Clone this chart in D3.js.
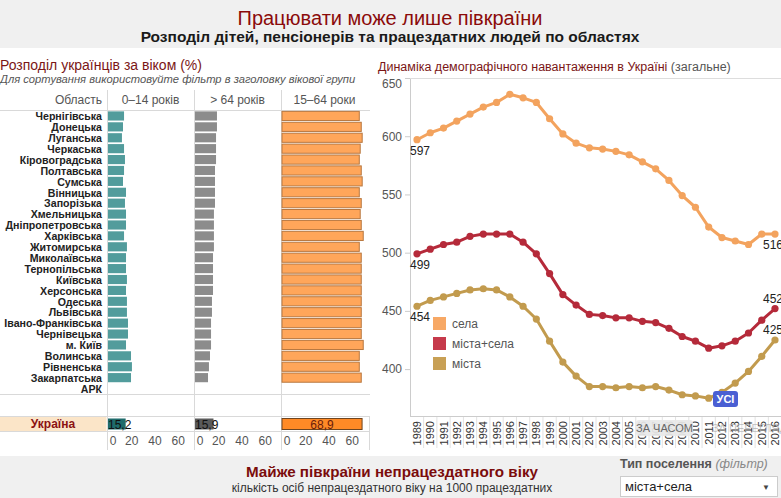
<!DOCTYPE html>
<html>
<head>
<meta charset="utf-8">
<script src="https://cdn.jsdelivr.net/npm/d3@7"></script>
<style>
  body { margin: 0; background: #fff; }
  svg text { font-family: "Liberation Sans", Arial, sans-serif; }
  svg .narrow { font-family: "Liberation Sans Narrow", "Arial Narrow", "Liberation Sans", sans-serif; }
</style>
</head>
<body>
<svg id="chart"></svg>
<script>
// ---- data ----
const regions = ["Чернігівська", "Донецька", "Луганська", "Черкаська", "Кіровоградська",
  "Полтавська", "Сумська", "Вінницька", "Запорізька", "Хмельницька", "Дніпропетровська",
  "Харківська", "Житомирська", "Миколаївська", "Тернопільська", "Київська", "Херсонська",
  "Одеська", "Львівська", "Івано-Франківська", "Чернівецька", "м. Київ", "Волинська",
  "Рівненська", "Закарпатська", "АРК"];
const ageGroups = ["0–14 років", "> 64 років", "15–64 роки"];
const young = [13.8, 12.9, 12.0, 13.8, 14.6, 13.8, 12.9, 15.5, 14.6, 15.5, 15.5, 13.8, 16.3,
  15.5, 15.5, 16.3, 15.5, 16.3, 16.3, 17.2, 17.2, 15.5, 19.8, 20.6, 19.8, null];
const old = [18.9, 18.9, 18.1, 18.1, 18.1, 17.2, 17.2, 17.2, 17.2, 16.3, 16.3, 16.3, 16.3,
  15.5, 15.5, 15.5, 15.5, 14.6, 14.6, 13.8, 13.8, 13.8, 12.9, 12.0, 11.2, null];
const working = [66.5, 68.2, 69.0, 67.3, 66.5, 68.2, 69.0, 66.5, 68.2, 67.3, 68.2, 69.9, 66.5,
  68.2, 68.2, 68.2, 68.2, 68.2, 68.2, 68.2, 68.2, 69.9, 66.5, 66.5, 68.2, null];
const ukraine = [15.2, 15.9, 68.9];
const pctTicks = [0, 20, 40, 60];

const years = ["1989", "1990", "1991", "1992", "1993", "1994", "1995", "1996", "1997", "1998",
  "1999", "2000", "2001", "2002", "2003", "2004", "2005", "2006", "2007", "2008", "2009",
  "2010", "2011", "2012", "2013", "2014", "2015", "2016"];
const rural = [597, 603, 607, 613, 619, 625, 629, 636, 633, 629, 615, 602, 594, 590, 589, 587,
  584, 578, 572, 562, 549, 539, 522, 513, 510, 507, 516, 516];
const total = [499, 503, 507, 509, 514, 516, 516, 516, 509, 499, 482, 464, 455, 447, 446, 444,
  444, 441, 440, 435, 428, 424, 418, 420, 424, 431, 442, 452];
const urban = [454, 459, 462, 465, 468, 469, 468, 462, 454, 443, 424, 406, 394, 385, 385, 384,
  385, 384, 385, 382, 378, 377, 375, 380, 388, 398, 411, 425];
const seriesNames = ["села", "міста+села", "міста"];
const loadTicks = [400, 450, 500, 550, 600, 650];

// ---- svg ----
const W = 781, H = 498;
const svg = d3.select("#chart").attr("width", W).attr("height", H);
const fmt = v => d3.format(".1f")(v).replace(".", ",");

// header band
svg.append("rect").attr("x", 0).attr("y", 0).attr("width", W).attr("height", 48).attr("fill", "#f0f0f0");
svg.append("text").attr("class", "narrow").attr("x", 390).attr("y", 25).attr("text-anchor", "middle")
  .attr("font-size", 20).attr("fill", "#8b0a0a").text("Працювати може лише півкраїни");
svg.append("text").attr("class", "narrow").attr("x", 390).attr("y", 42).attr("text-anchor", "middle")
  .attr("font-size", 15.5).attr("font-weight", "bold").attr("fill", "#1a1a1a")
  .text("Розподіл дітей, пенсіонерів та працездатних людей по областях");

// ---- left panel: age distribution ----
svg.append("text").attr("x", 0).attr("y", 70).attr("font-size", 14).attr("fill", "#7b1616")
  .text("Розподіл українців за віком (%)");
svg.append("text").attr("x", 0).attr("y", 83).attr("font-size", 11.2).attr("font-style", "italic")
  .attr("fill", "#555").text("Для сортування використовуйте фільтр в заголовку вікової групи");

const col = d3.scaleBand().domain(ageGroups).range([107, 368]);
const y = d3.scaleBand().domain(regions).range([110.5, 394]).paddingInner(0.16).paddingOuter(0.08);
const pct = ageGroups.map(g => d3.scaleLinear().domain([0, 74]).range([col(g) + 1, col(g) + 1 + 86]));

const colValues = [young, old, working];
const fills = ["#529c9c", "#8c8c8c", "#ffa65a"];
const strokes = [null, null, "#b8773f"];
const ukFills = ["#1f6b6b", "#5a5a5a", "#ff8a26"];
const ukStrokes = [null, null, "#6e4520"];

// grid lines
const grid = svg.append("g").attr("stroke", "#d9d9d9").attr("stroke-width", 1);
grid.selectAll("line.v").data(ageGroups).join("line")
  .attr("x1", g => col(g) + 0.5).attr("x2", g => col(g) + 0.5).attr("y1", 90).attr("y2", 450);
grid.append("line").attr("x1", 369.5).attr("x2", 369.5).attr("y1", 417).attr("y2", 450);
grid.append("line").attr("x1", 0).attr("x2", 370).attr("y1", 110.5).attr("y2", 110.5);
grid.append("line").attr("x1", 0).attr("x2", 370).attr("y1", 394.5).attr("y2", 394.5);
grid.append("line").attr("x1", 0).attr("x2", 370).attr("y1", 416.5).attr("y2", 416.5);
grid.append("line").attr("x1", 0).attr("x2", 370).attr("y1", 431.5).attr("y2", 431.5);

// headers
svg.append("text").attr("x", 102).attr("y", 104).attr("text-anchor", "end").attr("font-size", 12)
  .attr("fill", "#555").text("Область");
svg.selectAll("text.hdr").data(ageGroups).join("text").attr("class", "hdr")
  .attr("x", g => col(g) + col.bandwidth() / 2).attr("y", 104).attr("text-anchor", "middle")
  .attr("font-size", 12).attr("fill", "#555").text(g => g);

// region labels (condensed bold, as in the original)
svg.selectAll("text.reg").data(regions).join("text").attr("class", "reg")
  .attr("transform", d => `translate(102,${y(d) + y.bandwidth() / 2}) scale(0.9,1)`)
  .attr("dy", "0.36em")
  .attr("text-anchor", "end").attr("font-size", 11.8).attr("font-weight", "bold").attr("fill", "#222")
  .text(d => d);

// bars
ageGroups.forEach((g, i) => {
  const data = regions.map((r, j) => ({ r, v: colValues[i][j] })).filter(d => d.v != null);
  svg.append("g").selectAll("rect").data(data).join("rect")
    .attr("x", pct[i](0)).attr("y", d => y(d.r))
    .attr("width", d => pct[i](d.v) - pct[i](0)).attr("height", y.bandwidth())
    .attr("fill", fills[i])
    .attr("stroke", strokes[i] || "none").attr("stroke-width", strokes[i] ? 1 : 0);
});

// Ukraine row
svg.append("rect").attr("x", 0).attr("y", 417).attr("width", 106.5).attr("height", 14).attr("fill", "#fbe5c8");
svg.append("text").attr("x", 53).attr("y", 427.5).attr("text-anchor", "middle").attr("font-size", 12)
  .attr("font-weight", "bold").attr("fill", "#8b1212").text("Україна");
ageGroups.forEach((g, i) => {
  const x = pct[i];
  svg.append("rect").attr("x", x(0)).attr("y", 418.5).attr("width", x(ukraine[i]) - x(0)).attr("height", 11)
    .attr("fill", ukFills[i]).attr("stroke", ukStrokes[i] || "none");
  svg.append("text")
    .attr("x", i === 2 ? (x(0) + x(ukraine[i])) / 2 : x(0))
    .attr("y", 428.5).attr("text-anchor", i === 2 ? "middle" : "start")
    .attr("font-size", 12).attr("fill", i === 2 ? "#6b1c0c" : "#111").text(fmt(ukraine[i]));
  // percent axis
  const ax = svg.append("g").attr("transform", "translate(0,432)")
    .call(d3.axisBottom(x).tickValues(pctTicks).tickSize(0).tickPadding(4));
  ax.select(".domain").remove();
  ax.selectAll("text").attr("font-size", 12).attr("fill", "#555")
    .attr("font-family", "Liberation Sans, Arial, sans-serif")
    .attr("text-anchor", d => d === 0 ? "start" : "middle")
    .attr("dx", d => d === 0 ? "0.1em" : 0);
});

// ---- right panel: demographic load ----
const title2 = svg.append("text").attr("x", 378).attr("y", 71).attr("font-size", 12.5);
title2.append("tspan").attr("fill", "#7b1616").text("Динаміка демографічного навантаження в Україні");
title2.append("tspan").attr("fill", "#555").text(" (загальне)");

const px = d3.scalePoint().domain(years).range([417, 775]);
const py = d3.scaleLinear().domain([359.3, 650]).range([416.5, 78]);

// frame
svg.append("line").attr("x1", 410.5).attr("x2", 410.5).attr("y1", 78).attr("y2", 417).attr("stroke", "#ccc");
svg.append("line").attr("x1", 410).attr("x2", W).attr("y1", 78.5).attr("y2", 78.5).attr("stroke", "#ddd");
svg.append("line").attr("x1", 410).attr("x2", W).attr("y1", 416.5).attr("y2", 416.5).attr("stroke", "#ccc");

const yAx = svg.append("g").attr("transform", "translate(410,0)")
  .call(d3.axisLeft(py).tickValues(loadTicks).tickSize(5).tickPadding(3));
yAx.select(".domain").remove();
yAx.selectAll("line").attr("stroke", "#ccc");
yAx.selectAll("text").attr("font-size", 12).attr("fill", "#555")
  .attr("font-family", "Liberation Sans, Arial, sans-serif")
  .attr("dy", d => d === 650 ? "0.75em" : "0.32em");

// year axis
const step = px.step();
svg.append("g").selectAll("line").data(years).join("line")
  .attr("x1", d => px(d) + step / 2).attr("x2", d => px(d) + step / 2)
  .attr("y1", 417).attr("y2", 448).attr("stroke", "#e2e2e2");
svg.append("g").selectAll("text").data(years).join("text")
  .attr("transform", d => `translate(${px(d) + 4},421) rotate(-90)`)
  .attr("text-anchor", "end").attr("font-size", 11).attr("fill", "#333").text(d => d);

// lines
const seriesValues = [rural, total, urban];
const lineColors = ["#f3a35e", "#b52a3a", "#c29b4e"];
const legendColors = ["#f7a865", "#c63a4b", "#c8a055"];
const line = d3.line().x(d => px(d.year)).y(d => py(d.v));
seriesValues.forEach((vals, i) => {
  const pts = years.map((year, j) => ({ year, v: vals[j] }));
  svg.append("path").datum(pts).attr("d", line).attr("fill", "none")
    .attr("stroke", lineColors[i]).attr("stroke-width", 3).attr("stroke-linejoin", "round");
  svg.append("g").selectAll("circle").data(pts).join("circle")
    .attr("cx", d => px(d.year)).attr("cy", d => py(d.v)).attr("r", 3.6).attr("fill", lineColors[i]);
  // first and last value labels
  svg.append("text").attr("x", 410).attr("y", py(vals[0]) + 15).attr("font-size", 12).attr("fill", "#222")
    .text(vals[0]);
  const last = vals[vals.length - 1];
  svg.append("text").attr("x", 763).attr("y", py(last) + (i === 0 ? 15 : -6)).attr("font-size", 12)
    .attr("fill", "#222").text(last);
});

// legend
const lg = svg.append("g").attr("transform", "translate(433,317)");
lg.selectAll("rect").data(seriesNames).join("rect")
  .attr("x", 0).attr("y", (d, i) => i * 20).attr("width", 13).attr("height", 13)
  .attr("fill", (d, i) => legendColors[i]);
lg.selectAll("text").data(seriesNames).join("text")
  .attr("x", 19).attr("y", (d, i) => i * 20 + 11).attr("font-size", 12).attr("fill", "#555").text(d => d);

// overlays from the original page
svg.append("rect").attr("x", 713).attr("y", 391).attr("width", 25).attr("height", 16).attr("rx", 3)
  .attr("fill", "#4a5fd3");
svg.append("text").attr("x", 725.5).attr("y", 403).attr("text-anchor", "middle").attr("font-size", 11)
  .attr("font-weight", "bold").attr("fill", "#fff").text("УСІ");
svg.append("rect").attr("x", 636).attr("y", 420).attr("width", 57).attr("height", 16).attr("rx", 3)
  .attr("fill", "#e8e8e8").attr("opacity", 0.92);
svg.append("text").attr("x", 664.5).attr("y", 432).attr("text-anchor", "middle").attr("font-size", 11)
  .attr("fill", "#666").text("ЗА ЧАСОМ");
svg.append("text").attr("x", 712).attr("y", 432).attr("font-size", 11).attr("fill", "#aaa")
  .attr("opacity", 0.7).text("ЗА ПЕРЕГЛЯДАМИ");

// ---- bottom band ----
svg.append("rect").attr("x", 0).attr("y", 456).attr("width", W).attr("height", H - 456).attr("fill", "#f0f0f0");
svg.append("text").attr("class", "narrow").attr("x", 392).attr("y", 477).attr("text-anchor", "middle")
  .attr("font-size", 15.2).attr("font-weight", "bold").attr("fill", "#7b0c0c")
  .text("Майже півкраїни непрацездатного віку");
svg.append("text").attr("class", "narrow").attr("x", 392).attr("y", 492).attr("text-anchor", "middle")
  .attr("font-size", 12).attr("fill", "#333")
  .text("кількість осіб непрацездатного віку на 1000 працездатних");
const ft = svg.append("text").attr("class", "narrow").attr("x", 620).attr("y", 468).attr("font-size", 12.5);
ft.append("tspan").attr("font-weight", "bold").attr("fill", "#555").text("Тип поселення ");
ft.append("tspan").attr("font-style", "italic").attr("fill", "#888").text("(фільтр)");
svg.append("rect").attr("x", 620.5).attr("y", 476.5).attr("width", 157).attr("height", 20)
  .attr("fill", "#fff").attr("stroke", "#ccc");
svg.append("text").attr("class", "narrow").attr("x", 625).attr("y", 491).attr("font-size", 13)
  .attr("fill", "#222").text("міста+села");
svg.append("text").attr("x", 762).attr("y", 490).attr("font-size", 8).attr("fill", "#444").text("▼");
</script>
</body>
</html>
